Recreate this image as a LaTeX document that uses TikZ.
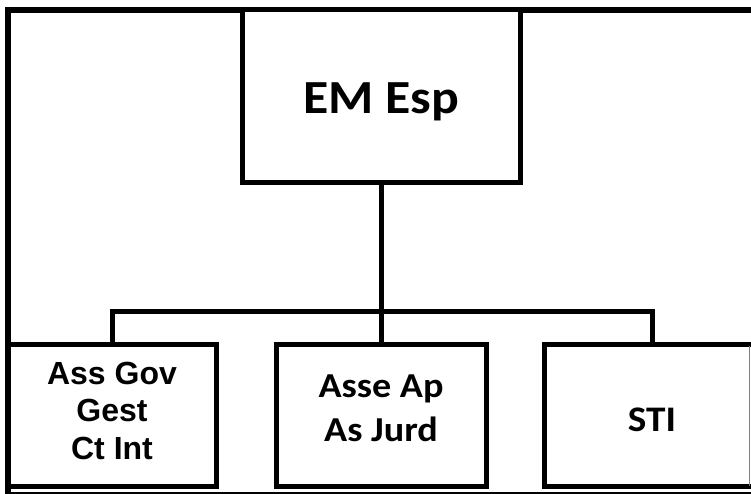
\documentclass[tikz,border=0pt]{standalone}
\usepackage{fontspec}
\newfontfamily\calb[FakeStretch=1.09]{Carlito}
\newfontfamily\arb{Liberation Sans}
\newcommand{\shiftup}[2]{\raisebox{#1}[\height][\depth]{#2}}
\begin{document}
\begin{tikzpicture}[x=1pt,y=-1pt,
  box/.style={draw=black,line width=5pt,fill=white,inner sep=0pt,align=center},
  conn/.style={draw=black,line width=5pt}]
\useasboundingbox (0,0) rectangle (751,494);
\clip (0,0) rectangle (751,494);
\fill[white] (0,0) rectangle (751,494);
% outer frame
\draw[line width=6pt] (8,10) rectangle (780,495);
% top box
\node[box,minimum width=278pt,minimum height=173pt,
  font=\calb\bfseries\fontsize{47.5}{50}\selectfont] (top) at (381,96.5)
  {\shiftup{-5pt}{EM Esp}};
% bottom boxes
\node[box,minimum width=208pt,minimum height=142pt,
  font=\arb\bfseries\fontsize{32}{37.5}\selectfont] (b1) at (112,415)
  {\shiftup{1pt}{\begin{tabular}{@{}c@{}}Ass Gov\\Gest\\Ct Int\end{tabular}}};
\node[box,minimum width=210pt,minimum height=142pt,
  font=\calb\bfseries\fontsize{35}{44}\selectfont] (b2) at (381,415)
  {\shiftup{4pt}{\begin{tabular}{@{}c@{}}Asse Ap\\As Jurd\end{tabular}}};
\node[box,minimum width=216pt,minimum height=142pt,
  font=\calb\bfseries\fontsize{36}{40}\selectfont] (b3) at (652,415)
  {\shiftup{-5pt}{STI}};
\draw[gray,line width=1pt] (749.5,346) -- (749.5,486);
% connectors
\coordinate (bus) at (381,311);
\draw[conn] (top.south) -- (top.south |- bus);
\draw[conn] (b1.north) |- (bus) -| (b3.north);
\draw[conn] (bus) -- (b2.north);
\end{tikzpicture}
\end{document}
